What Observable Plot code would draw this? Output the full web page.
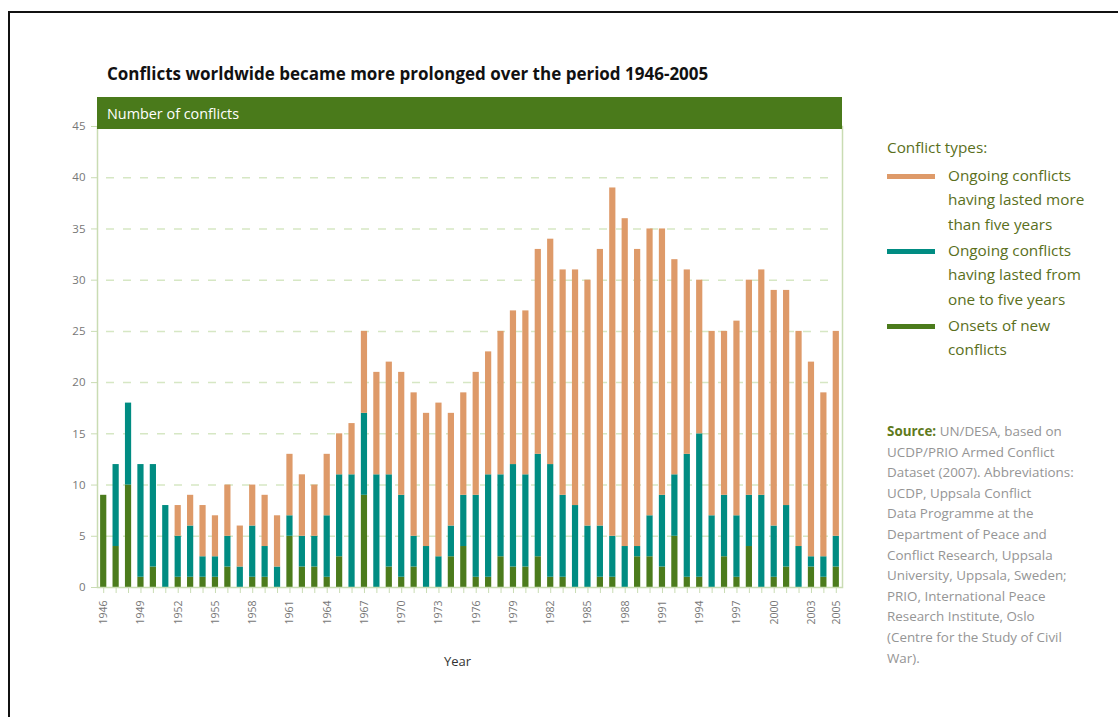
<!DOCTYPE html>
<html>
<head>
<meta charset="utf-8">
<script src="https://cdn.jsdelivr.net/npm/d3@7"></script>
<script src="https://cdn.jsdelivr.net/npm/@observablehq/plot@0.6"></script>
<style>
  body { margin: 0; background: #fff; }
  #wrap { position: relative; width: 1118px; height: 717px; overflow: hidden; font-family: "Open Sans", sans-serif; }
  #frame { position: absolute; left: 8px; top: 11px; width: 1200px; height: 800px; border-left: 2.5px solid #111; border-top: 2.5px solid #111; }
  #chart { position: absolute; left: 0; top: 0; }
  #title { position: absolute; left: 107px; top: 62px; font-size: 17px; font-weight: 700; color: #111; white-space: nowrap; }
  #header { position: absolute; left: 97px; top: 97px; width: 745px; height: 32px; background: #4a7a1b; }
  #header span { position: absolute; left: 10px; top: 7px; color: #fff; font-size: 14.4px; white-space: nowrap; }
  #xlabel { position: absolute; left: 444px; top: 652px; font-size: 13px; color: #333; }
  #legend { position: absolute; left: 887px; top: 137px; color: #5a6f1c; font-size: 15.3px; }
  #legend .ttl { position: absolute; left: 0; top: 0; white-space: nowrap; }
  .item { position: absolute; left: 0; white-space: nowrap; }
  .sw { position: absolute; left: 0; width: 48px; height: 5px; }
  .lab { position: absolute; left: 61px; top: 0; line-height: 24.3px; }
  #source { position: absolute; left: 887px; top: 421px; font-size: 13.4px; line-height: 20.6px; color: #959595; white-space: nowrap; }
  #source b { color: #5f7a1c; }
</style>
</head>
<body>
<div id="wrap">
  <div id="frame"></div>
  <div id="chart"></div>
  <div id="title">Conflicts worldwide became more prolonged over the period 1946-2005</div>
  <div id="header"><span>Number of conflicts</span></div>
  <div id="xlabel">Year</div>
  <div id="legend"></div>
  <div id="source"></div>
</div>
<script>
// ---- Data ----
const years = [1946,1947,1948,1949,1950,1951,1952,1953,1954,1955,1956,1957,1958,1959,1960,
  1961,1962,1963,1964,1965,1966,1967,1968,1969,1970,1971,1972,1973,1974,1975,
  1976,1977,1978,1979,1980,1981,1982,1983,1984,1985,1986,1987,1988,1989,1990,
  1991,1992,1993,1994,1995,1996,1997,1998,1999,2000,2001,2002,2003,2004,2005];

// Onsets of new conflicts (bottom segment)
const onsets = [9,4,10,1,2,0,1,1,1,1,2,0,1,1,0,
  5,2,2,1,3,0,9,0,2,1,2,0,0,3,4,
  1,1,3,2,2,3,1,1,0,0,1,1,0,3,3,
  2,5,1,1,0,3,1,4,0,1,2,0,2,1,2];

// Ongoing conflicts having lasted from one to five years (middle segment)
const oneToFive = [0,8,8,11,10,8,4,5,2,2,3,2,5,3,2,
  2,3,3,6,8,11,8,11,9,8,3,4,3,3,5,
  8,10,8,10,9,10,11,8,8,6,5,4,4,1,4,
  7,6,12,14,7,6,6,5,9,5,6,4,1,2,3];

// Ongoing conflicts having lasted more than five years (top segment)
const overFive = [0,0,0,0,0,0,3,3,5,4,5,4,4,5,5,
  6,6,5,6,4,5,8,10,11,12,14,13,15,11,10,
  12,12,14,15,16,20,22,22,23,24,27,34,32,29,28,
  26,21,18,15,18,16,19,21,22,23,21,21,19,16,20];

const typeNames = [
  "Onsets of new conflicts",
  "Ongoing conflicts having lasted from one to five years",
  "Ongoing conflicts having lasted more than five years"
];
const typeColors = ["#4b7b1c", "#008c82", "#de9a69"];
const yTicks = [0,5,10,15,20,25,30,35,40,45];
const gridTicks = [5,10,15,20,25,30,35,40];
const labeledYears = [1946,1949,1952,1955,1958,1961,1964,1967,1970,1973,1976,1979,1982,1985,1988,1991,1994,1997,2000,2003,2005];

const legendLines = [
  ["Ongoing conflicts", "having lasted more", "than five years"],
  ["Ongoing conflicts", "having lasted from", "one to five years"],
  ["Onsets of new", "conflicts"]
];
const sourceLines = [
  "UN/DESA, based on",
  "UCDP/PRIO Armed Conflict",
  "Dataset (2007). Abbreviations:",
  "UCDP, Uppsala Conflict",
  "Data Programme at the",
  "Department of Peace and",
  "Conflict Research, Uppsala",
  "University, Uppsala, Sweden;",
  "PRIO, International Peace",
  "Research Institute, Oslo",
  "(Centre for the Study of Civil",
  "War)."
];

const series = [onsets, oneToFive, overFive];
const rows = [];
years.forEach((yr, i) => {
  series.forEach((s, k) => rows.push({year: yr, type: typeNames[k], value: s[i]}));
});

const axisGreen = "#c9dcb3";
const chart = Plot.plot({
  width: 1118,
  height: 717,
  marginLeft: 97,
  marginRight: 276,
  marginTop: 126,
  marginBottom: 130,
  style: {background: "transparent", fontFamily: "Open Sans, sans-serif"},
  x: {type: "band", domain: years, paddingInner: 0.5, paddingOuter: 0.25, round: false, label: null},
  y: {domain: [0, 45], label: null},
  color: {domain: typeNames, range: typeColors},
  marks: [
    Plot.ruleY(gridTicks, {y: d => d, stroke: "#d6e7c4", strokeWidth: 1.5, strokeDasharray: "8,9", insetLeft: 9, insetRight: 6}),
    Plot.barY(rows, {x: "year", y: "value", fill: "type"}),
    Plot.frame({stroke: axisGreen, strokeWidth: 1.5}),
    Plot.axisY({ticks: yTicks, tickSize: 6, tickPadding: 6, stroke: axisGreen, fill: "#777", fontSize: 11.5, label: null}),
    Plot.axisX({ticks: years, tickSize: 6, text: null, stroke: axisGreen, label: null}),
    Plot.axisX({ticks: labeledYears, tickFormat: d => String(d), tickSize: 0, tickPadding: 13, tickRotate: -90, fill: "#777", fontSize: 10.5, label: null})
  ]
});
document.getElementById("chart").appendChild(chart);

// Legend
const legend = document.getElementById("legend");
const ttl = document.createElement("div");
ttl.className = "ttl"; ttl.textContent = "Conflict types:";
legend.appendChild(ttl);
const legendOrder = [2, 1, 0];
const legendTops = [26, 101, 176];
legendOrder.forEach((k, j) => {
  const d = document.createElement("div");
  d.className = "item"; d.style.top = legendTops[j] + "px";
  const sw = document.createElement("div");
  sw.className = "sw"; sw.style.top = "11px"; sw.style.background = typeColors[k];
  const lab = document.createElement("div");
  lab.className = "lab"; lab.innerHTML = legendLines[j].join("<br>");
  d.appendChild(sw); d.appendChild(lab);
  legend.appendChild(d);
});

// Source note
const src = document.getElementById("source");
src.innerHTML = "<b>Source:</b> " + sourceLines.join("<br>");
</script>
</body>
</html>
